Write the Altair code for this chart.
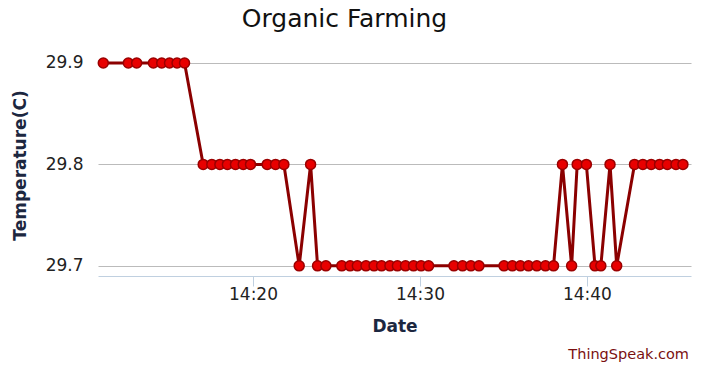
import altair as alt
import pandas as pd

times = [
    "14:11:02", "14:12:32", "14:13:02", "14:14:02", "14:14:32", "14:15:00", "14:15:27", "14:15:54",
    "14:17:01", "14:17:32", "14:18:01", "14:18:28", "14:18:57", "14:19:25", "14:19:51",
    "14:20:51", "14:21:21", "14:21:51",
    "14:22:46", "14:23:27",
    "14:23:52", "14:24:22", "14:25:19", "14:25:49", "14:26:15", "14:26:46", "14:27:15", "14:27:42",
    "14:28:12", "14:28:39", "14:29:08", "14:29:37", "14:30:04", "14:30:31",
    "14:32:02", "14:32:33", "14:33:03", "14:33:32",
    "14:35:02", "14:35:32", "14:36:01", "14:36:30", "14:37:00", "14:37:31", "14:38:00",
    "14:38:32", "14:39:05", "14:39:25", "14:39:58", "14:40:29", "14:40:50", "14:41:23", "14:41:47",
    "14:42:51", "14:43:21", "14:43:51", "14:44:21", "14:44:49", "14:45:20", "14:45:45",
]
temperature = [
    29.9, 29.9, 29.9, 29.9, 29.9, 29.9, 29.9, 29.9,
    29.8, 29.8, 29.8, 29.8, 29.8, 29.8, 29.8,
    29.8, 29.8, 29.8,
    29.7, 29.8,
    29.7, 29.7, 29.7, 29.7, 29.7, 29.7, 29.7, 29.7,
    29.7, 29.7, 29.7, 29.7, 29.7, 29.7,
    29.7, 29.7, 29.7, 29.7,
    29.7, 29.7, 29.7, 29.7, 29.7, 29.7, 29.7,
    29.8, 29.7, 29.8, 29.8, 29.7, 29.7, 29.8, 29.7,
    29.8, 29.8, 29.8, 29.8, 29.8, 29.8, 29.8,
]
y_ticks = [29.7, 29.8, 29.9]
x_tick_minutes = [20, 30, 40]
day = "2017-01-01T"

df = pd.DataFrame({"Date": [day + t for t in times], "Temperature": temperature})

FONT = "DejaVu Sans"
W, H = 593, 234


def dt(h, m, s=0):
    return alt.DateTime(year=2017, month=1, date=1, hours=h, minutes=m, seconds=s)


x_enc = alt.X(
    "Date:T",
    scale=alt.Scale(domain=[dt(14, 10, 43), dt(14, 46, 14)]),
    axis=alt.Axis(
        title="Date", format="%H:%M",
        values=[dt(14, m) for m in x_tick_minutes],
        grid=False, domainColor="#C0D0E0", tickColor="#C0D0E0", tickSize=10,
        domainWidth=1, tickWidth=1,
        labelFont=FONT, labelFontSize=17, labelColor="#222222", labelPadding=0,
        titleFont=FONT, titleFontSize=17, titleFontWeight="bold", titleColor="#1c2740",
        titleY=50, titleBaseline="middle",
    ),
)
y_enc = alt.Y(
    "Temperature:Q",
    scale=alt.Scale(domain=[29.69, 29.9207], zero=False, nice=False),
    axis=alt.Axis(
        title="Temperature(C)", values=y_ticks, format=".1f",
        domain=False, ticks=False, grid=True, gridColor="#BBBBBB", gridWidth=1,
        labelFont=FONT, labelFontSize=17, labelColor="#222222", labelPadding=15,
        titleFont=FONT, titleFontSize=17, titleFontWeight="bold", titleColor="#1c2740",
        titleX=-78, titleY=123, titleAngle=270, titleAlign="center", titleBaseline="middle",
    ),
)

base = alt.Chart(df)
line = base.mark_line(color="#8B0000", strokeWidth=3).encode(x=x_enc, y=y_enc)
points = base.mark_circle(
    color="#E80000", stroke="#9a0000", strokeWidth=1.5, size=100, opacity=1,
).encode(x="Date:T", y="Temperature:Q")

credit = alt.Chart(pd.DataFrame({"t": ["ThingSpeak.com"]})).mark_text(
    font=FONT, fontSize=14.5, color="#7a1010", align="right", baseline="middle"
).encode(text="t:N", x=alt.value(W - 2), y=alt.value(313))

chart = alt.layer(line, points, credit).properties(
    width=W, height=H,
    background="white",
    title=alt.TitleParams(
        "Organic Farming", font=FONT, fontSize=25, fontWeight="normal", color="#111111",
        anchor="middle", dx=-50, dy=24, baseline="alphabetic", offset=14,
    ),
    padding={"left": 98, "top": 42, "right": 20, "bottom": 97},
    autosize=alt.AutoSizeParams(type="none"),
).configure_view(stroke=None)

chart.save("out.html", embed_options={"renderer": "svg", "actions": False})
